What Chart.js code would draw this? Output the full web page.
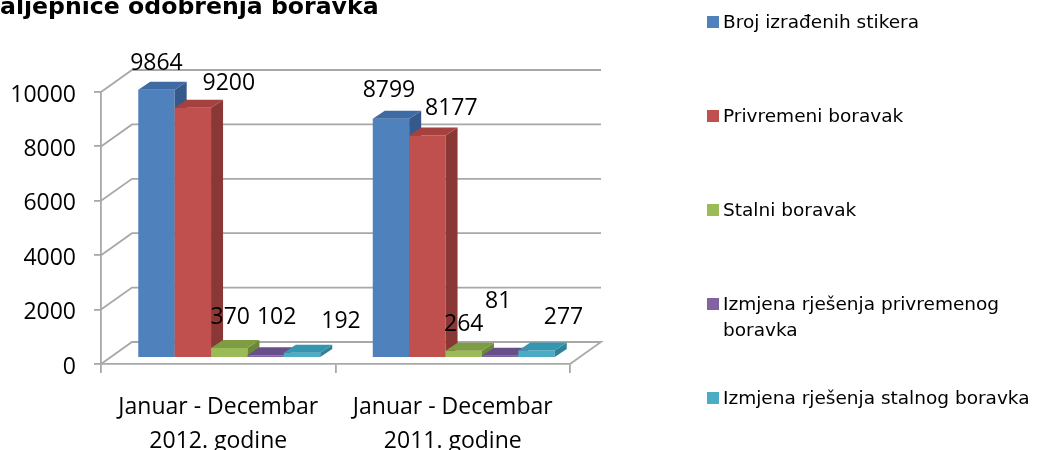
<!DOCTYPE html>
<html>
<head>
<meta charset="utf-8">
<script src="https://cdn.jsdelivr.net/npm/chart.js@4.4.1/dist/chart.umd.min.js"></script>
<style>
  body { margin: 0; background: #fff; overflow: hidden; }
  #wrap { position: relative; width: 1039px; height: 450px; }
  #naslov { position: absolute; left: 0; top: -6px; font: bold 23.6px "DejaVu Sans"; line-height: 24px; white-space: nowrap; color: #000; }
  #legenda { position: absolute; left: 707px; top: 0; width: 340px; }
  .stavka { position: absolute; left: 0; display: flex; align-items: flex-start; font: 18.5px "DejaVu Sans"; line-height: 26px; color: #000; }
  .kocka { width: 12px; height: 12px; margin-top: 7px; margin-right: 4px; flex: none; }
  .tekst { width: 318px; }
</style>
</head>
<body>
<div id="wrap">
  <canvas id="myChart" width="1039" height="450"></canvas>
  <div id="naslov">aljepnice odobrenja boravka</div>
  <div id="legenda"></div>
</div>
<script>
let kategorije = [["Januar - Decembar", "2012. godine"], ["Januar - Decembar", "2011. godine"]];
let nazivi = ["Broj izrađenih stikera", "Privremeni boravak", "Stalni boravak",
              "Izmjena rješenja privremenog boravka", "Izmjena rješenja stalnog boravka"];
let stikeri = [9864, 8799];
let privremeni = [9200, 8177];
let stalni = [370, 264];
let izmjenaPrivremenog = [102, 81];
let izmjenaStalnog = [192, 277];
let yTicks = [0, 2000, 4000, 6000, 8000, 10000];

// boje: prednja strana, vrh, bok
let boje = [
    ['#4F81BD', '#3E6BA4', '#34598A'],
    ['#C0504D', '#A5413E', '#8A3836'],
    ['#9BBB59', '#7E9D42', '#6C8837'],
    ['#8064A2', '#67508A', '#5A4679'],
    ['#4BACC6', '#3796AF', '#2E8199']
];
// pomak natpisa (x, y) u odnosu na vrh stupca
let pomakNatpisa = [
    [[0, -26], [-2, -28]],
    [[36, -24], [24, -27]],
    [[1, -30], [0, -26]],
    [[11, -38], [-2, -54]],
    [[39, -31], [27, -33]]
];

let nizovi = [stikeri, privremeni, stalni, izmjenaPrivremenog, izmjenaStalnog];
let pomakX = 11, pomakY = -6;     // stupci su u sredini dubine
let dubX = 31, dubY = -22;        // dubina zida
let bokX = 12, bokY = -8;         // dubina stupca
let siva = '#A8A8A8';
let font = 'Open Sans';

let treciD = {
    id: 'treciD',
    beforeDatasetsDraw(chart) {
        const ctx = chart.ctx;
        const a = chart.chartArea;
        const y = chart.scales.y;
        ctx.save();
        ctx.strokeStyle = siva;
        ctx.lineWidth = 1.8;
        yTicks.forEach(v => {
            const py = y.getPixelForValue(v);
            ctx.beginPath();
            ctx.moveTo(a.left, py);
            ctx.lineTo(a.left + dubX, py + dubY);
            ctx.lineTo(a.right + dubX, py + dubY);
            if (v === 0) ctx.lineTo(a.right, py);
            ctx.stroke();
        });
        ctx.restore();
    },
    // stupce crtamo sami, redom slijeva nadesno
    beforeDatasetDraw() {
        return false;
    },
    afterDatasetsDraw(chart) {
        const ctx = chart.ctx;
        ctx.save();
        ctx.translate(pomakX, pomakY);
        chart.data.datasets.forEach((ds, d) => {
            chart.getDatasetMeta(d).data.forEach(bar => {
                bar.draw(ctx, chart.chartArea);
                const p = bar.getProps(['x', 'y', 'base', 'width'], true);
                const l = p.x - p.width / 2, r = p.x + p.width / 2;
                ctx.fillStyle = boje[d][2];
                ctx.beginPath();
                ctx.moveTo(r, p.y);
                ctx.lineTo(r + bokX, p.y + bokY);
                ctx.lineTo(r + bokX, p.base + bokY);
                ctx.lineTo(r, p.base);
                ctx.closePath();
                ctx.fill();
                ctx.fillStyle = boje[d][1];
                ctx.beginPath();
                ctx.moveTo(l, p.y);
                ctx.lineTo(l + bokX, p.y + bokY);
                ctx.lineTo(r + bokX, p.y + bokY);
                ctx.lineTo(r, p.y);
                ctx.closePath();
                ctx.fill();
            });
        });
        ctx.restore();

        ctx.save();
        ctx.font = '23px "' + font + '"';
        ctx.fillStyle = '#000';
        ctx.textAlign = 'center';
        ctx.textBaseline = 'middle';
        chart.data.datasets.forEach((ds, d) => {
            chart.getDatasetMeta(d).data.forEach((bar, i) => {
                const p = bar.getProps(['x', 'y'], true);
                ctx.fillText(ds.data[i], p.x + pomakX + pomakNatpisa[d][i][0], p.y + pomakY + pomakNatpisa[d][i][1]);
            });
        });
        ctx.restore();
    }
};

let skupovi = nizovi.map((niz, d) => ({
    label: nazivi[d],
    data: niz,
    backgroundColor: boje[d][0],
    borderWidth: 0,
    barPercentage: 1,
    categoryPercentage: 0.776
}));

const ctx = document.getElementById('myChart').getContext('2d');
const myChart = new Chart(ctx, {
    type: 'bar',
    data: { labels: kategorije, datasets: skupovi },
    plugins: [treciD],
    options: {
        responsive: false,
        animation: false,
        layout: { padding: { left: 0, top: 92, right: 469, bottom: 0 } },
        plugins: { legend: { display: false }, tooltip: { enabled: false }, title: { display: false } },
        scales: {
            x: {
                afterFit(s) { s.height = 86; },
                grid: { drawOnChartArea: false, drawTicks: true, tickLength: 9, color: siva, lineWidth: 1.8 },
                border: { display: true, color: siva, width: 1.8 },
                ticks: { color: '#000', font: { family: font, size: 23, lineHeight: 1.45 }, padding: 18, maxRotation: 0 }
            },
            y: {
                min: 0,
                max: 10000,
                afterFit(s) { s.width = 101; },
                afterBuildTicks(s) { s.ticks = yTicks.map(v => ({ value: v })); },
                grid: { drawOnChartArea: false, drawTicks: true, tickLength: 7, color: siva, lineWidth: 1.8 },
                border: { display: true, color: siva, width: 1.8 },
                ticks: { color: '#000', font: { family: font, size: 23 }, padding: 18, labelOffset: 3, callback: v => String(v) }
            }
        }
    }
});

// legenda
let legenda = document.getElementById('legenda');
nazivi.forEach((n, d) => {
    let s = document.createElement('div');
    s.className = 'stavka';
    s.style.top = (22 + d * 94 - 13) + 'px';
    s.innerHTML = '<div class="kocka" style="background:' + boje[d][0] + '"></div><div class="tekst">' + n + '</div>';
    legenda.appendChild(s);
});
</script>
</body>
</html>
